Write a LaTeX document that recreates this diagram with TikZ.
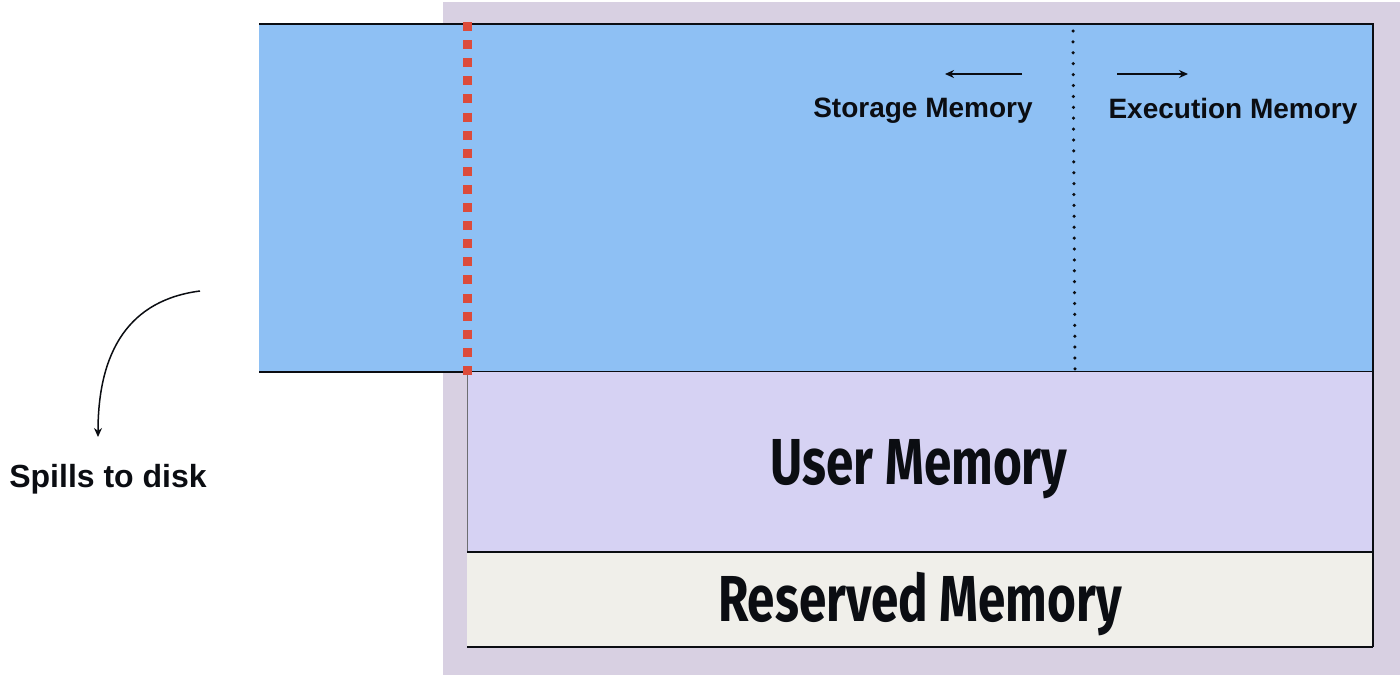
\documentclass[tikz,border=0pt]{standalone}
\usepackage{fontspec}
\usepackage{graphicx}
\setmainfont{Liberation Sans}
\newfontfamily\headfont{Fira Sans}
\usetikzlibrary{arrows.meta}
\definecolor{bgpurple}{HTML}{D8D0E2}
\definecolor{memblue}{HTML}{8EC0F4}
\definecolor{userpurple}{HTML}{D6D2F3}
\definecolor{reservedgray}{HTML}{F0EFEA}
\definecolor{spillred}{HTML}{DC4B3B}
\definecolor{inkblack}{HTML}{0B0D12}
\newcommand{\condensed}[1]{\scalebox{0.76}[1]{#1}}
\tikzset{
  border/.style={draw=inkblack, line width=2pt},
  smalllabel/.style={font=\fontsize{28}{32}\selectfont\bfseries, text=inkblack, inner sep=0pt},
  biglabel/.style={font=\headfont\fontsize{65}{72}\selectfont\bfseries, text=inkblack, inner sep=0pt},
  dirarrow/.style={draw=inkblack, line width=1.8pt, -{Stealth[length=9pt,width=8pt]}},
}
\begin{document}
\begin{tikzpicture}[x=1pt,y=-1pt]
\useasboundingbox (0,0) rectangle (1400,675);
% outer background
\fill[bgpurple] (443,2) rectangle (1400,675);
% unified memory (blue)
\fill[memblue] (259,24) rectangle (1373,372);
\draw[border] (259,24) -- (1373,24) -- (1373,372) -- (259,372);
% user memory
\fill[userpurple] (467,372) rectangle (1373,552);
\draw[draw=inkblack!60, line width=1pt] (467,372) -- (467,647);
\draw[border] (1373,372) -- (1373,647);
\draw[border] (467,552) -- (1373,552);
% reserved memory
\fill[reservedgray] (467,553) rectangle (1372,646);
\draw[border] (467,647) -- (1373,647);
% red spill boundary
\draw[spillred, line width=9pt, dash pattern=on 9pt off 9.1pt] (467,22) -- (467,375.5);
% storage / execution boundary
\draw[inkblack, line width=3.5pt, line cap=round, dash pattern=on 0pt off 10.9pt] (1073,31) -- (1075,370);
% labels
\node[smalllabel] (storage) at (923,111) {Storage Memory};
\node[smalllabel] (execution) at (1233,111) {Execution Memory};
\node[biglabel] (user) at (919,469) {\condensed{User Memory}};
\node[biglabel] (reserved) at (920,604) {\condensed{Reserved Memory}};
\node[smalllabel, font=\fontsize{32}{36}\selectfont\bfseries] (spill) at (108,479) {Spills to disk};
% direction arrows
\coordinate (sA) at (1022,74);
\coordinate (sB) at (945,74);
\coordinate (eA) at (1117,74);
\coordinate (eB) at (1188,74);
\draw[dirarrow] (sA) -- (sB);
\draw[dirarrow] (eA) -- (eB);
% spill arrow
\coordinate (cA) at (200,291);
\coordinate (cB) at (98,437);
\draw[dirarrow, line width=1.5pt] (cA) .. controls (130,300) and (98,350) .. (cB);
\end{tikzpicture}
\end{document}
